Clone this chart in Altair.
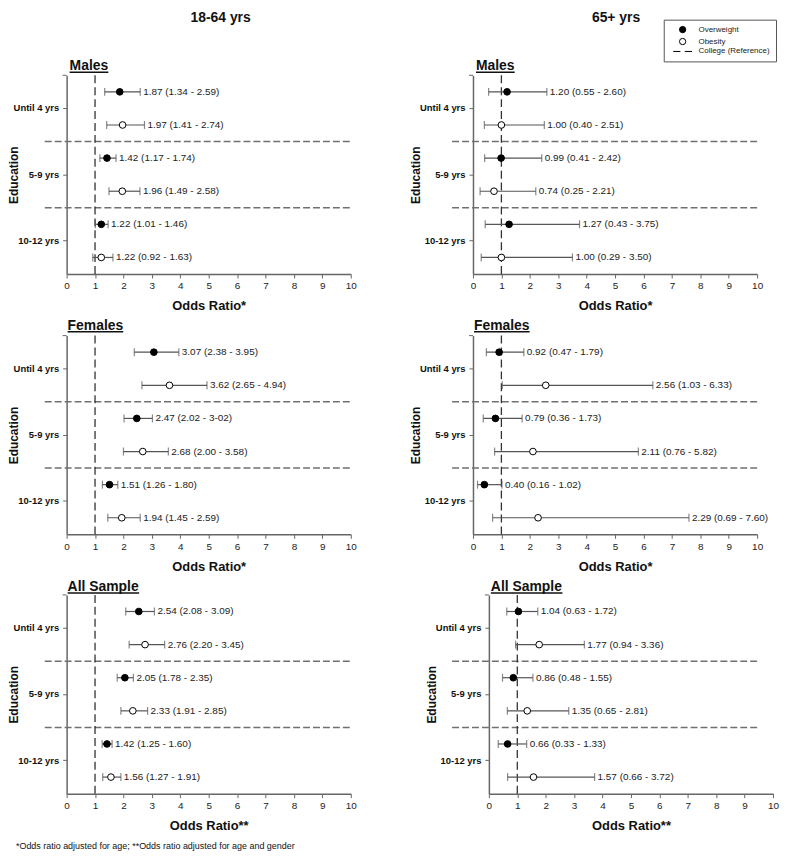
import altair as alt
import pandas as pd

# ---------------- data ----------------
education = ["Until 4 yrs", "5-9 yrs", "10-12 yrs"]
outcomes = ["Overweight", "Obesity"]
legend_items = ["Overweight", "Obesity", "College (Reference)"]
ages = ["18-64 yrs", "65+ yrs"]
groups = ["Males", "Females", "All Sample"]
x_ticks = list(range(0, 11))
reference_or = [1]
x_titles = ["Odds Ratio*", "Odds Ratio*", "Odds Ratio**"]
footnote = "*Odds ratio adjusted for age; **Odds ratio adjusted for age and gender"

# order within each list: Until 4 (OW, OB), 5-9 (OW, OB), 10-12 (OW, OB)
or_young_males = [1.87, 1.97, 1.42, 1.96, 1.22, 1.22]
lo_young_males = [1.34, 1.41, 1.17, 1.49, 1.01, 0.92]
hi_young_males = [2.59, 2.74, 1.74, 2.58, 1.46, 1.63]

or_old_males = [1.20, 1.00, 0.99, 0.74, 1.27, 1.00]
lo_old_males = [0.55, 0.40, 0.41, 0.25, 0.43, 0.29]
hi_old_males = [2.60, 2.51, 2.42, 2.21, 3.75, 3.50]

or_young_females = [3.07, 3.62, 2.47, 2.68, 1.51, 1.94]
lo_young_females = [2.38, 2.65, 2.02, 2.00, 1.26, 1.45]
hi_young_females = [3.95, 4.94, 3.02, 3.58, 1.80, 2.59]

or_old_females = [0.92, 2.56, 0.79, 2.11, 0.40, 2.29]
lo_old_females = [0.47, 1.03, 0.36, 0.76, 0.16, 0.69]
hi_old_females = [1.79, 6.33, 1.73, 5.82, 1.02, 7.60]

or_young_all = [2.54, 2.76, 2.05, 2.33, 1.42, 1.56]
lo_young_all = [2.08, 2.20, 1.78, 1.91, 1.25, 1.27]
hi_young_all = [3.09, 3.45, 2.35, 2.85, 1.60, 1.91]

or_old_all = [1.04, 1.77, 0.86, 1.35, 0.66, 1.57]
lo_old_all = [0.63, 0.94, 0.48, 0.65, 0.33, 0.66]
hi_old_all = [1.72, 3.36, 1.55, 2.81, 1.33, 3.72]

# label text exactly as printed (one label carries a typo in the source)
label_overrides = {("18-64 yrs", "Females", 2): "2.47 (2.02 - 3-02)"}

series = {
    ("18-64 yrs", "Males"): (or_young_males, lo_young_males, hi_young_males),
    ("65+ yrs", "Males"): (or_old_males, lo_old_males, hi_old_males),
    ("18-64 yrs", "Females"): (or_young_females, lo_young_females, hi_young_females),
    ("65+ yrs", "Females"): (or_old_females, lo_old_females, hi_old_females),
    ("18-64 yrs", "All Sample"): (or_young_all, lo_young_all, hi_young_all),
    ("65+ yrs", "All Sample"): (or_old_all, lo_old_all, hi_old_all),
}

# ---------------- style / layout ----------------
FONT = "Liberation Sans"
W, H = 286, 200
DASH_PATH = "M-3,0L-0.7,0M0.7,0L3,0"

# per-panel layout tweaks: title x, underline y, separator extents
layout = {
    ("18-64 yrs", "Males"): dict(tx=3, uy=-3, s1=-22, s2=W + 2),
    ("65+ yrs", "Males"): dict(tx=3, uy=-3, s1=-21, s2=W + 1),
    ("18-64 yrs", "Females"): dict(tx=1, uy=-4, s1=-22, s2=W + 2),
    ("65+ yrs", "Females"): dict(tx=1, uy=-4, s1=-21, s2=W + 1),
    ("18-64 yrs", "All Sample"): dict(tx=1, uy=-2, s1=-22, s2=W + 2),
    ("65+ yrs", "All Sample"): dict(tx=2, uy=-2, s1=-37, s2=W - 14),
}
title_widths = {"Males": 39, "Females": 56, "All Sample": 72}


def make_panel(age, grp, row, col):
    ors, los, his = series[(age, grp)]
    recs = []
    for i, (o, l, h) in enumerate(zip(ors, los, his)):
        lab = label_overrides.get((age, grp, i), f"{o:.2f} ({l:.2f} - {h:.2f})")
        recs.append(dict(edu=education[i // 2], outcome=outcomes[i % 2],
                         odds=o, lo=l, hi=h, label=lab))
    df = pd.DataFrame(recs)
    lay = layout[(age, grp)]

    xscale = alt.Scale(domain=[0, 10], nice=False, zero=False, padding=0)
    xaxis = alt.Axis(values=x_ticks, title=x_titles[row], grid=False,
                     tickSize=4, tickColor="#666", domainColor="#666",
                     domainWidth=1.5, tickWidth=1, labelFontSize=10,
                     labelColor="#222", labelPadding=3, labelFlush=False,
                     titleFontSize=13,
                     titleFontWeight="bold", titlePadding=9, titleColor="#111",
                     labelFont=FONT, titleFont=FONT)
    yscale = alt.Scale(domain=education, paddingInner=0, paddingOuter=0)
    yaxis = alt.Axis(title="Education", grid=False, tickSize=4,
                     tickColor="#666", domainColor="#666", domainWidth=1.5,
                     labelFontSize=9.5, labelFontWeight="bold",
                     labelColor="#111", labelPadding=4, titleFontSize=12,
                     titleFontWeight="bold", titleColor="#111",
                     titlePadding=(-8 if col == 0 else -3),
                     labelFont=FONT, titleFont=FONT)

    def X(field):
        return alt.X(f"{field}:Q", scale=xscale, axis=xaxis)

    Y = alt.Y("edu:N", sort=education, scale=yscale, axis=yaxis)
    YO = alt.YOffset("outcome:N", sort=outcomes,
                     scale=alt.Scale(domain=outcomes, paddingInner=0,
                                     paddingOuter=0))

    base = alt.Chart(df)

    seps = alt.Chart(pd.DataFrame({"edu": education[1:]})).mark_rule(
        color="#707070", strokeWidth=1.5, strokeDash=[7, 3]
    ).encode(
        y=alt.Y("edu:N", sort=education, scale=yscale, axis=yaxis,
                bandPosition=0),
        x=alt.value(lay["s1"]), x2=alt.value(lay["s2"]),
    )

    # small tick at the top end of the y axis
    top_tick = alt.Chart(pd.DataFrame({"t": [0]})).mark_rule(
        color="#666", strokeWidth=1
    ).encode(x=alt.value(-4), x2=alt.value(0), y=alt.value(0))

    ref = alt.Chart(pd.DataFrame({"ref": reference_or})).mark_rule(
        color="#333", strokeWidth=1.3, strokeDash=[8, 4]
    ).encode(x=X("ref"))

    bars = base.mark_rule(color="#555", strokeWidth=1.2).encode(
        x=X("lo"), x2="hi", y=Y, yOffset=YO)
    cap_lo = base.mark_tick(color="#555", size=8, thickness=1.2).encode(
        x=X("lo"), y=Y, yOffset=YO)
    cap_hi = base.mark_tick(color="#555", size=8, thickness=1.2).encode(
        x=X("hi"), y=Y, yOffset=YO)

    if row == 0 and col == 1:
        leg = alt.Legend(title=None, orient="none", legendX=192, legendY=-56,
                         direction="vertical", strokeColor="#555",
                         fillColor="white", padding=6, labelFontSize=8,
                         labelFont=FONT, labelColor="#222", symbolSize=40,
                         rowPadding=0, symbolOffset=9, labelOffset=12,
                         symbolStrokeColor="black", symbolStrokeWidth=1)
    else:
        leg = None
    pts = base.mark_point(filled=True, size=45, strokeWidth=1,
                          opacity=1).encode(
        x=X("odds"), y=Y, yOffset=YO,
        fill=alt.Fill("outcome:N",
                      scale=alt.Scale(domain=legend_items,
                                      range=["black", "white", "transparent"]),
                      legend=leg),
        stroke=alt.Stroke("outcome:N",
                          scale=alt.Scale(domain=legend_items,
                                          range=["black", "black", "black"]),
                          legend=leg),
        shape=alt.Shape("outcome:N",
                        scale=alt.Scale(domain=legend_items,
                                        range=["circle", "circle", DASH_PATH]),
                        legend=leg),
    )

    labels = base.mark_text(align="left", baseline="middle", dx=3,
                            fontSize=10, font=FONT, color="#222").encode(
        x=X("hi"), y=Y, yOffset=YO, text="label:N")

    ttl = alt.Chart(pd.DataFrame({"t": [grp]})).mark_text(
        align="left", baseline="alphabetic", fontSize=14, fontWeight="bold",
        font=FONT, color="#111"
    ).encode(text="t:N", x=alt.value(lay["tx"]), y=alt.value(lay["uy"] - 2))
    uline = alt.Chart(pd.DataFrame({"t": [grp]})).mark_rule(
        color="#111", strokeWidth=1.5
    ).encode(x=alt.value(lay["tx"]),
             x2=alt.value(lay["tx"] + title_widths[grp]),
             y=alt.value(lay["uy"]))

    layers = [seps, top_tick, ref, bars, cap_lo, cap_hi, pts, labels, ttl,
              uline]

    if row == 0:
        ct = alt.Chart(pd.DataFrame({"t": [age]})).mark_text(
            align="center", baseline="middle", fontSize=14,
            fontWeight="bold", font=FONT, color="#111"
        ).encode(text="t:N", x=alt.value(155 if col == 0 else 144),
                 y=alt.value(-58))
        layers.append(ct)
    if row == 2 and col == 0:
        fn = alt.Chart(pd.DataFrame({"t": [footnote]})).mark_text(
            align="left", baseline="middle", fontSize=9, font=FONT,
            color="#111"
        ).encode(text="t:N", x=alt.value(-51), y=alt.value(H + 53))
        layers.append(fn)

    return alt.layer(*layers).properties(width=W, height=H)


rows = []
for r, grp in enumerate(groups):
    left = make_panel(ages[0], grp, r, 0)
    right = make_panel(ages[1], grp, r, 1)
    rows.append(
        alt.hconcat(left, right, spacing=(69 if r == 2 else 53))
        .resolve_scale(fill="independent", shape="independent",
                       stroke="independent")
    )

upper = alt.vconcat(rows[0], rows[1], spacing=6).resolve_scale(
    fill="independent", shape="independent", stroke="independent")

chart = alt.vconcat(upper, rows[2], spacing=7).resolve_scale(
    fill="independent", shape="independent", stroke="independent"
).properties(padding=0).configure(
    font=FONT, background="white"
).configure_view(stroke="transparent", strokeWidth=0)

chart.save("out.html", embed_options={"renderer": "svg", "actions": False})
